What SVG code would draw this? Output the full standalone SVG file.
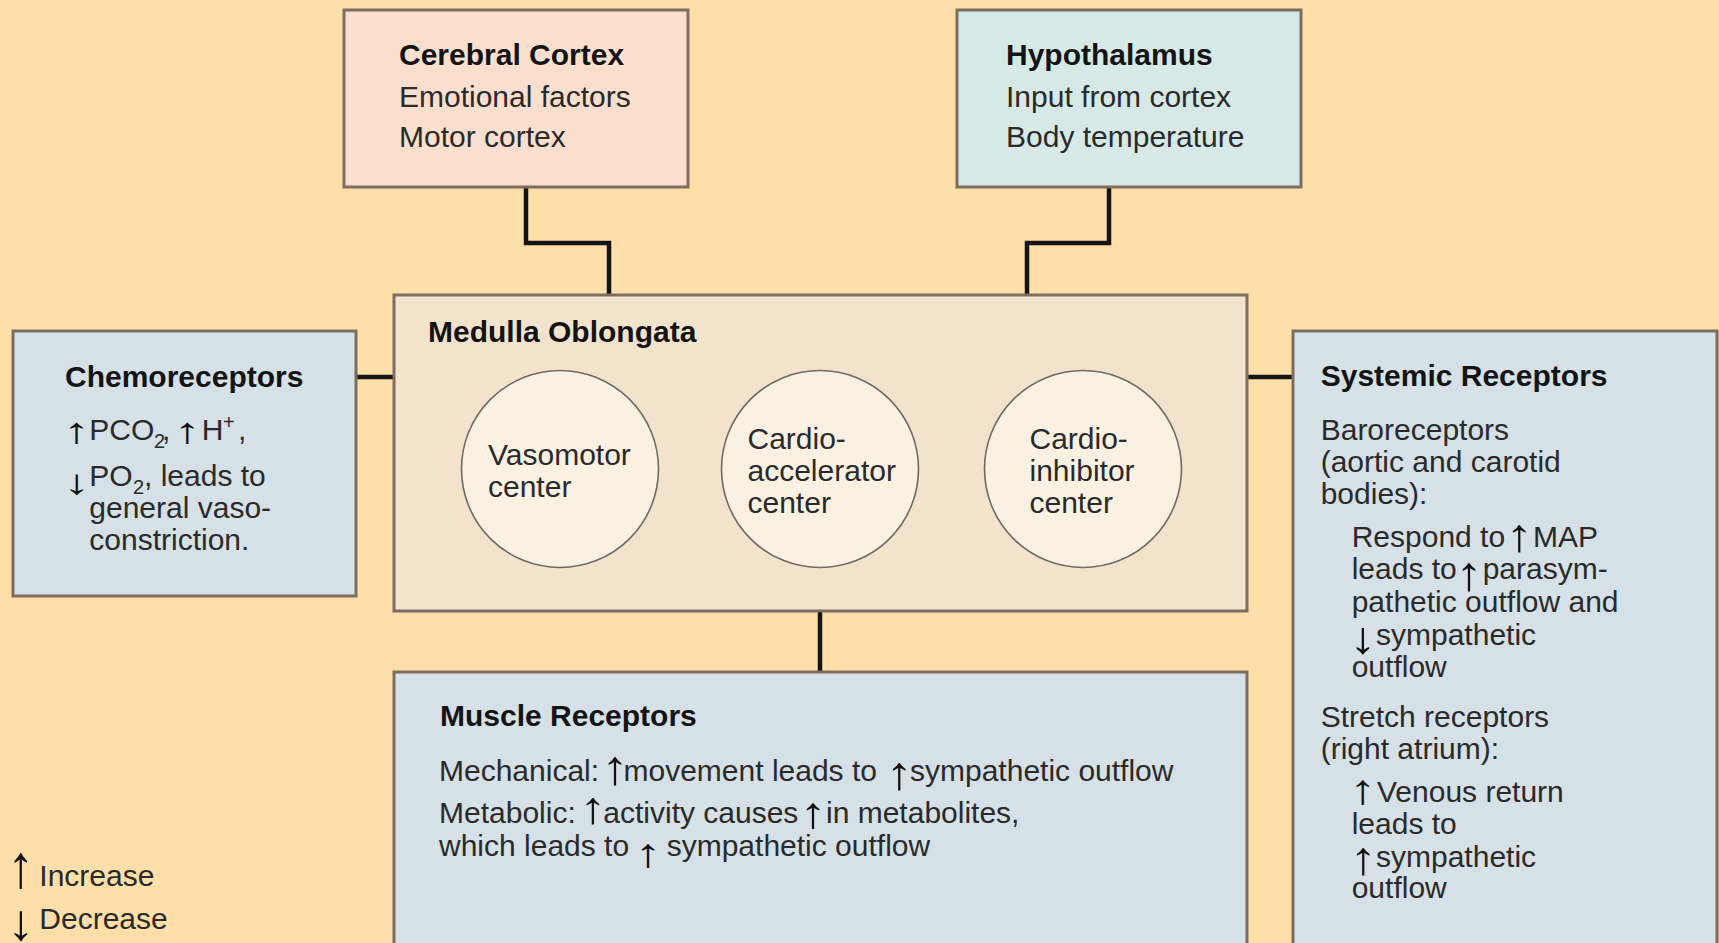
<svg xmlns="http://www.w3.org/2000/svg" width="1719" height="943" viewBox="0 0 1719 943">
<style>
.t{font-family:"Liberation Sans",Arial,Helvetica,sans-serif;font-size:30px;fill:#2a2a2a}
.b{font-weight:bold;fill:#141414}
.s{font-size:20px}
.a{font-family:"Liberation Sans",Arial,Helvetica,sans-serif;font-size:30px;font-weight:bold;fill:#111;text-anchor:middle}
.box{stroke:#7b6e60;stroke-width:3}
.blue{fill:#d5e0e7}
.conn{fill:none;stroke:#141414;stroke-width:4.5;stroke-linejoin:miter}
.circ{fill:#faf1e3;stroke:#6e6a64;stroke-width:1.6}
</style>
<rect x="0" y="0" width="1719" height="943" fill="#fedfa9"/>

<g id="connectors">
  <path class="conn" d="M526,188 V243 H609 V294"/>
  <path class="conn" d="M1109,188 V243 H1027 V294"/>
  <path class="conn" d="M356,377 H394"/>
  <path class="conn" d="M1247,377 H1293"/>
  <path class="conn" d="M820,611 V672"/>
</g>

<g id="cerebral-cortex">
  <rect class="box" x="344" y="10" width="344" height="177" fill="#fbdfce"/>
  <text class="t b" x="399" y="65">Cerebral Cortex</text>
  <text class="t" x="399" y="107">Emotional factors</text>
  <text class="t" x="399" y="147">Motor cortex</text>
</g>

<g id="hypothalamus">
  <rect class="box" x="957" y="10" width="344" height="177" fill="#d6e9e7"/>
  <text class="t b" x="1006" y="65">Hypothalamus</text>
  <text class="t" x="1006" y="107">Input from cortex</text>
  <text class="t" x="1006" y="147">Body temperature</text>
</g>

<g id="medulla-oblongata">
  <rect class="box" x="394" y="295" width="853" height="316" fill="#f4e3cc"/>
  <text class="t b" x="428" y="342">Medulla Oblongata</text>
</g>

<g id="vasomotor-center">
  <circle class="circ" cx="560" cy="469" r="98.5"/>
  <text class="t" x="488" y="465">Vasomotor</text>
  <text class="t" x="488" y="497">center</text>
</g>

<g id="cardioaccelerator-center">
  <circle class="circ" cx="820" cy="469" r="98.5"/>
  <text class="t" x="747.5" y="449">Cardio-</text>
  <text class="t" x="747.5" y="481">accelerator</text>
  <text class="t" x="747.5" y="512.5">center</text>
</g>

<g id="cardioinhibitor-center">
  <circle class="circ" cx="1083" cy="469" r="98.5"/>
  <text class="t" x="1029.5" y="449">Cardio-</text>
  <text class="t" x="1029.5" y="481">inhibitor</text>
  <text class="t" x="1029.5" y="512.5">center</text>
</g>

<g id="chemoreceptors">
  <rect class="box blue" x="13" y="331" width="343" height="265"/>
  <text class="t b" x="65" y="387">Chemoreceptors</text>
  <text class="a" transform="translate(76.7,443) scale(1.8,1.2)">↑</text>
  <text class="t"><tspan x="89.3" y="440">PCO</tspan><tspan class="s" x="154" y="448">2</tspan><tspan x="162" y="440">,</tspan><tspan x="201.7" y="440">H</tspan><tspan class="s" x="223" y="429">+</tspan><tspan x="238" y="440">,</tspan></text>
  <text class="a" transform="translate(187.5,443) scale(1.8,1.2)">↑</text>
  <text class="a" transform="translate(76.7,494) scale(1.8,1.15)">↓</text>
  <text class="t"><tspan x="89.3" y="486">PO</tspan><tspan class="s" x="133" y="494">2</tspan><tspan x="144" y="486">, leads to</tspan></text>
  <text class="t" x="89.3" y="518">general vaso-</text>
  <text class="t" x="89.3" y="550">constriction.</text>
</g>

<g id="systemic-receptors">
  <rect class="box blue" x="1293" y="331" width="424" height="640"/>
  <text class="t b" x="1320.7" y="386">Systemic Receptors</text>
  <text class="t" x="1320.7" y="440">Baroreceptors</text>
  <text class="t" x="1320.7" y="472">(aortic and carotid</text>
  <text class="t" x="1320.7" y="504">bodies):</text>
  <text class="t" y="547"><tspan x="1351.7">Respond to</tspan><tspan x="1533">MAP</tspan></text>
  <text class="a" transform="translate(1519,551) scale(1.8,1.55)">↑</text>
  <text class="t" y="579"><tspan x="1351.7">leads to</tspan><tspan x="1482.7">parasym-</tspan></text>
  <text class="a" transform="translate(1469,590) scale(1.8,1.6)">↑</text>
  <text class="t" x="1351.7" y="612">pathetic outflow and</text>
  <text class="a" transform="translate(1363,653) scale(1.8,1.5)">↓</text>
  <text class="t" x="1376" y="645">sympathetic</text>
  <text class="t" x="1351.7" y="677">outflow</text>
  <text class="t" x="1320.7" y="727">Stretch receptors</text>
  <text class="t" x="1320.7" y="759">(right atrium):</text>
  <text class="a" transform="translate(1363,804) scale(1.8,1.4)">↑</text>
  <text class="t" x="1377" y="802">Venous return</text>
  <text class="t" x="1351.7" y="834">leads to</text>
  <text class="a" transform="translate(1363,874) scale(1.8,1.55)">↑</text>
  <text class="t" x="1376" y="866.5">sympathetic</text>
  <text class="t" x="1351.7" y="898">outflow</text>
</g>

<g id="muscle-receptors">
  <rect class="box blue" x="394" y="672" width="853" height="300"/>
  <text class="t b" x="440" y="726">Muscle Receptors</text>
  <text class="t" y="781"><tspan x="439">Mechanical:</tspan><tspan x="623.5">movement leads to</tspan><tspan x="910">sympathetic outflow</tspan></text>
  <text class="a" transform="translate(615,784) scale(1.8,1.6)">↑</text>
  <text class="a" transform="translate(899,789) scale(1.8,1.55)">↑</text>
  <text class="t" y="823"><tspan x="439">Metabolic:</tspan><tspan x="603.3">activity causes</tspan><tspan x="826">in metabolites,</tspan></text>
  <text class="a" transform="translate(593,823) scale(1.8,1.5)">↑</text>
  <text class="a" transform="translate(813,828) scale(1.8,1.45)">↑</text>
  <text class="t" y="856"><tspan x="439">which leads to</tspan><tspan x="666.7">sympathetic outflow</tspan></text>
  <text class="a" transform="translate(648,867) scale(1.8,1.35)">↑</text>
</g>

<g id="legend">
  <text class="a" transform="translate(20.7,887) scale(1.8,2.03)">↑</text>
  <text class="t" x="39.3" y="885.5">Increase</text>
  <text class="a" transform="translate(20.7,940) scale(1.8,1.7)">↓</text>
  <text class="t" x="39.3" y="929">Decrease</text>
</g>
</svg>
